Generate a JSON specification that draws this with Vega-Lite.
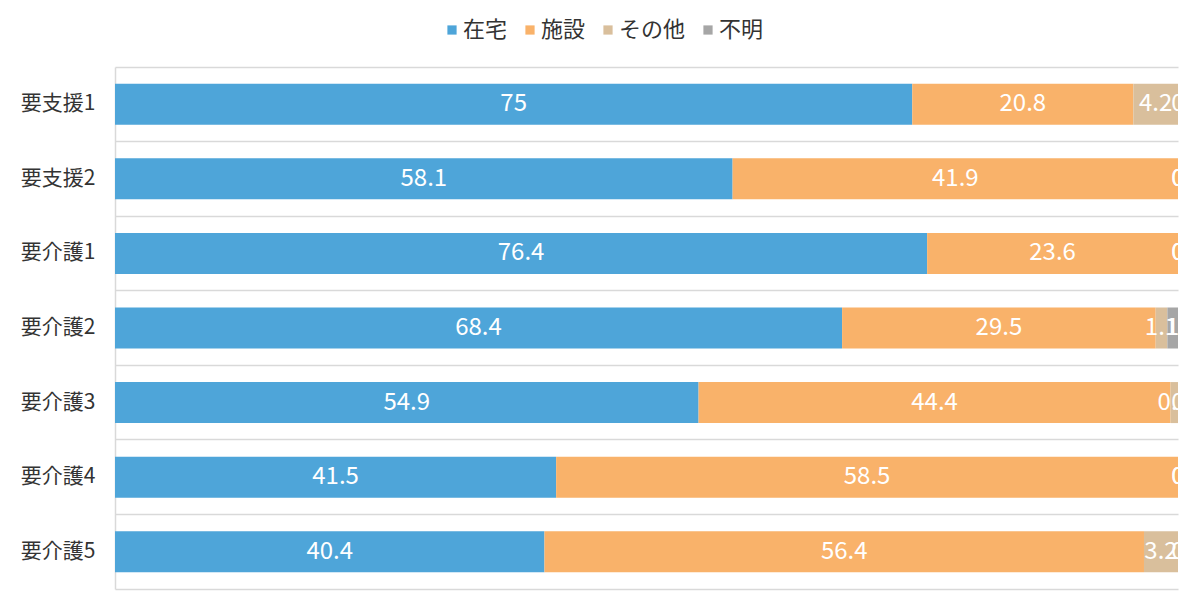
{
  "$schema": "https://vega.github.io/schema/vega-lite/v6.json",
  "autosize": {"type": "none"},
  "width": 1063,
  "height": 522,
  "padding": {"left": 115, "top": 67, "right": 22, "bottom": 22},
  "config": {
    "font": "Noto Sans CJK JP",
    "view": {"stroke": null}
  },
  "data": {
    "values": [
      {"level": "要支援1", "place": "在宅", "pct": 75},
      {"level": "要支援1", "place": "施設", "pct": 20.8},
      {"level": "要支援1", "place": "その他", "pct": 4.2},
      {"level": "要支援1", "place": "不明", "pct": 0},
      {"level": "要支援2", "place": "在宅", "pct": 58.1},
      {"level": "要支援2", "place": "施設", "pct": 41.9},
      {"level": "要支援2", "place": "その他", "pct": 0},
      {"level": "要支援2", "place": "不明", "pct": 0},
      {"level": "要介護1", "place": "在宅", "pct": 76.4},
      {"level": "要介護1", "place": "施設", "pct": 23.6},
      {"level": "要介護1", "place": "その他", "pct": 0},
      {"level": "要介護1", "place": "不明", "pct": 0},
      {"level": "要介護2", "place": "在宅", "pct": 68.4},
      {"level": "要介護2", "place": "施設", "pct": 29.5},
      {"level": "要介護2", "place": "その他", "pct": 1.1},
      {"level": "要介護2", "place": "不明", "pct": 1},
      {"level": "要介護3", "place": "在宅", "pct": 54.9},
      {"level": "要介護3", "place": "施設", "pct": 44.4},
      {"level": "要介護3", "place": "その他", "pct": 0.7},
      {"level": "要介護3", "place": "不明", "pct": 0},
      {"level": "要介護4", "place": "在宅", "pct": 41.5},
      {"level": "要介護4", "place": "施設", "pct": 58.5},
      {"level": "要介護4", "place": "その他", "pct": 0},
      {"level": "要介護4", "place": "不明", "pct": 0},
      {"level": "要介護5", "place": "在宅", "pct": 40.4},
      {"level": "要介護5", "place": "施設", "pct": 56.4},
      {"level": "要介護5", "place": "その他", "pct": 3.2},
      {"level": "要介護5", "place": "不明", "pct": 0}
    ]
  },
  "transform": [
    {"calculate": "indexof(['在宅', '施設', 'その他', '不明'], datum.place)", "as": "k"},
    {"stack": "pct", "groupby": ["level"], "sort": [{"field": "k", "order": "ascending"}], "as": ["x0", "x1"]},
    {"calculate": "(datum.x0 + datum.x1) / 2", "as": "xm"}
  ],
  "encoding": {
    "y": {
      "field": "level",
      "type": "nominal",
      "sort": null,
      "title": null,
      "scale": {"paddingInner": 0.45, "paddingOuter": 0.225},
      "axis": {
        "bandPosition": -0.409,
        "grid": true,
        "gridColor": "#d9d9d9",
        "gridWidth": 1.5,
        "domainColor": "#d9d9d9",
        "domainWidth": 1.5,
        "ticks": false,
        "labelFontSize": 21,
        "labelColor": "#333333",
        "labelPadding": 20
      }
    }
  },
  "layer": [
    {
      "mark": {"type": "bar"},
      "encoding": {
        "x": {
          "field": "x0",
          "type": "quantitative",
          "scale": {"domain": [0, 100], "nice": false},
          "title": null,
          "axis": {
            "grid": false,
            "labels": false,
            "ticks": false,
            "domainColor": "#d9d9d9",
            "domainWidth": 1.5
          }
        },
        "x2": {"field": "x1"},
        "color": {
          "field": "place",
          "type": "nominal",
          "title": null,
          "scale": {
            "domain": ["在宅", "施設", "その他", "不明"],
            "range": ["#4ea5d9", "#f9b26a", "#d9bf9c", "#a6a6a6"]
          },
          "legend": {
            "orient": "none",
            "direction": "horizontal",
            "legendX": 326,
            "legendY": -48,
            "symbolType": "square",
            "symbolSize": 85,
            "symbolStrokeWidth": 0,
            "labelFontSize": 22,
            "labelColor": "#333333",
            "labelOffset": 0,
            "columnPadding": 11
          }
        }
      }
    },
    {
      "mark": {"type": "text", "color": "white", "fontSize": 24, "clip": true},
      "encoding": {
        "x": {"field": "xm", "type": "quantitative"},
        "text": {"field": "pct", "type": "quantitative"}
      }
    }
  ]
}
